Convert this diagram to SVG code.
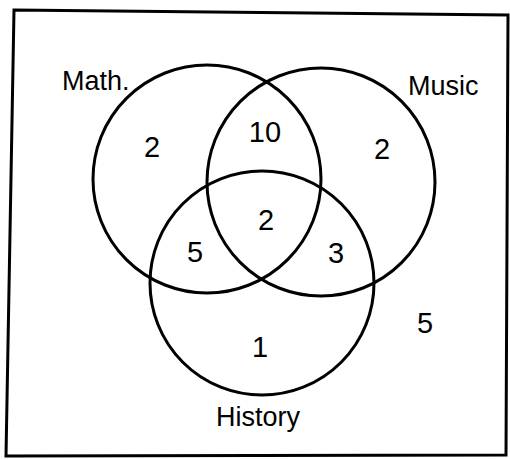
<svg xmlns="http://www.w3.org/2000/svg" width="510" height="459" viewBox="0 0 510 459">
<style>
.c{fill:none;stroke:#000;stroke-width:3}
.lbl{font-family:"Liberation Sans",Arial,sans-serif;font-size:27px;fill:#000}
.num{font-family:"Liberation Sans",Arial,sans-serif;font-size:29px;fill:#000;text-anchor:middle}
</style>
<rect width="510" height="459" fill="#fff"/>
<path d="M14,10 L508,15 L506,455 L6,456 Z" fill="none" stroke="#000" stroke-width="3"/>
<g id="math"><circle class="c" cx="207" cy="179" r="114"/><text class="lbl" x="62" y="90">Math.</text><text class="num" x="152" y="157">2</text></g>
<g id="music"><circle class="c" cx="321" cy="182" r="114"/><text class="lbl" x="408" y="95">Music</text><text class="num" x="382" y="159">2</text></g>
<g id="history"><circle class="c" cx="262" cy="283" r="112"/><text class="lbl" x="258" y="426" text-anchor="middle">History</text><text class="num" x="260" y="357">1</text></g>
<g id="regions">
<text class="num" x="265" y="142">10</text>
<text class="num" x="266" y="230">2</text>
<text class="num" x="195" y="262">5</text>
<text class="num" x="336" y="263">3</text>
<text class="num" x="425" y="333">5</text>
</g>
</svg>
